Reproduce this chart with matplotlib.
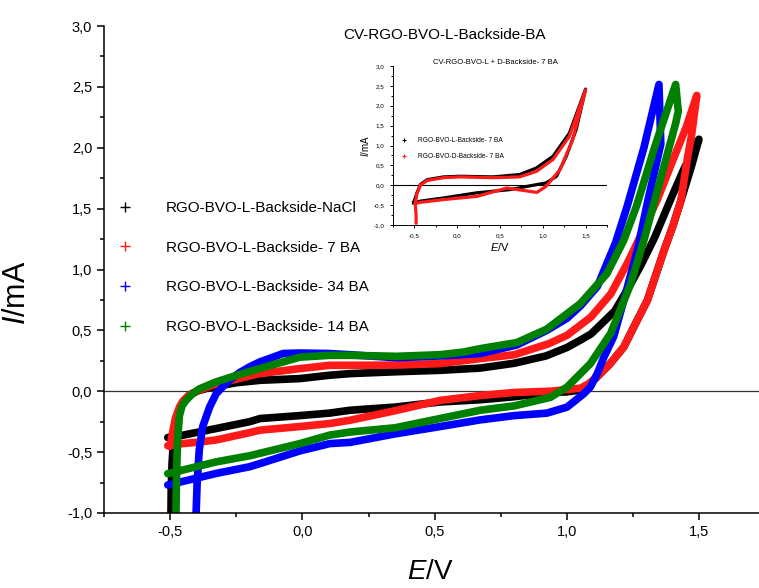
import numpy as np
import matplotlib
matplotlib.use("Agg")
from matplotlib import pyplot as plt
from matplotlib.lines import Line2D
from matplotlib.ticker import MultipleLocator, FuncFormatter

plt.rcParams['font.family'] = ['Liberation Sans', 'DejaVu Sans']
plt.rcParams['mathtext.fontset'] = 'custom'
plt.rcParams['mathtext.rm'] = 'Liberation Sans'
plt.rcParams['mathtext.it'] = 'Liberation Sans:italic'

# ---- main data (E in V, I in mA), one full cycle each ----
E_nacl = [-0.497, -0.496, -0.493, -0.488, -0.48, -0.465, -0.445, -0.427, -0.40, -0.36, -0.326, -0.25,
          -0.16, -0.01, 0.10, 0.18, 0.35, 0.52, 0.67, 0.80, 0.92, 1.00, 1.05, 1.09, 1.114, 1.18, 1.24,
          1.28, 1.33, 1.39, 1.44, 1.498,
          1.47, 1.43, 1.40, 1.366, 1.303, 1.25, 1.214, 1.16, 1.113, 1.08, 1.05, 1.0, 0.94, 0.80, 0.67,
          0.52, 0.35, 0.18, 0.10, -0.01, -0.16, -0.2, -0.326, -0.452, -0.509]
I_nacl = [-1.0, -0.8, -0.6, -0.42, -0.28, -0.15, -0.07, -0.03, 0.0, 0.025, 0.04, 0.07,
          0.09, 0.104, 0.131, 0.145, 0.16, 0.172, 0.19, 0.23, 0.29, 0.36, 0.42, 0.47, 0.52, 0.66, 0.88,
          1.04, 1.26, 1.57, 1.82, 2.07,
          1.85, 1.566, 1.36, 1.156, 0.746, 0.52, 0.363, 0.22, 0.117, 0.05, 0.01, -0.005, -0.01, -0.045, -0.07,
          -0.088, -0.13, -0.156, -0.18, -0.20, -0.224, -0.25, -0.306, -0.361, -0.38]

E_7ba = [-0.50, -0.49, -0.48, -0.465, -0.452, -0.427, -0.389, -0.326, -0.25, -0.162, -0.01, 0.103,
         0.18, 0.35, 0.52, 0.672, 0.80, 0.93, 1.0, 1.09, 1.165, 1.227, 1.256, 1.30, 1.34, 1.40, 1.45, 1.49,
         1.47, 1.455, 1.43, 1.40, 1.366, 1.303, 1.25, 1.214, 1.16, 1.113, 1.08, 1.05, 0.937, 0.80, 0.672,
         0.52, 0.35, 0.18, 0.103, -0.01, -0.162, -0.2, -0.326, -0.389, -0.452, -0.509]
I_7ba = [-0.45, -0.33, -0.22, -0.13, -0.08, -0.03, 0.01, 0.06, 0.10, 0.145, 0.186, 0.213,
         0.213, 0.215, 0.227, 0.268, 0.30, 0.39, 0.46, 0.61, 0.80, 1.05, 1.18, 1.38, 1.57, 1.90, 2.17, 2.43,
         2.1, 1.92, 1.566, 1.36, 1.156, 0.746, 0.52, 0.363, 0.22, 0.117, 0.06, 0.025, 0.0, -0.01, -0.035,
         -0.075, -0.16, -0.238, -0.265, -0.29, -0.32, -0.34, -0.40, -0.417, -0.43, -0.448]

E_34ba = [-0.402, -0.398, -0.39, -0.377, -0.351, -0.326, -0.30, -0.275, -0.24, -0.2, -0.162, -0.073,
          -0.01, 0.10, 0.18, 0.356, 0.52, 0.672, 0.81, 0.923, 1.0, 1.05, 1.114, 1.183, 1.227, 1.29, 1.347,
          1.354, 1.305, 1.265, 1.214, 1.176, 1.139, 1.114, 1.088, 1.063, 1.0, 0.923, 0.80, 0.672, 0.52,
          0.35, 0.18, 0.103, -0.01, -0.162, -0.2, -0.326, -0.509]
I_34ba = [-1.0, -0.75, -0.48, -0.29, -0.13, -0.02, 0.04, 0.09, 0.15, 0.2, 0.24, 0.31,
          0.314, 0.31, 0.30, 0.275, 0.29, 0.31, 0.38, 0.50, 0.60, 0.70, 0.86, 1.22, 1.52, 2.0, 2.52,
          2.03, 1.566, 1.156, 0.746, 0.45, 0.28, 0.145, 0.035, -0.02, -0.13, -0.18, -0.20, -0.235, -0.29,
          -0.35, -0.42, -0.43, -0.49, -0.595, -0.62, -0.675, -0.77]

E_14ba = [-0.478, -0.476, -0.472, -0.465, -0.455, -0.44, -0.415, -0.389, -0.326, -0.25, -0.162, -0.01,
          0.103, 0.18, 0.356, 0.52, 0.608, 0.672, 0.81, 0.923, 1.05, 1.15, 1.214, 1.262, 1.33, 1.41,
          1.42, 1.41, 1.32, 1.29, 1.24, 1.164, 1.088, 1.0, 0.937, 0.80, 0.672, 0.52, 0.35, 0.18, 0.103,
          -0.01, -0.162, -0.2, -0.326, -0.509]
I_14ba = [-1.0, -0.7, -0.4, -0.2, -0.12, -0.074, -0.02, 0.02, 0.077, 0.13, 0.186, 0.28,
          0.295, 0.295, 0.287, 0.30, 0.322, 0.35, 0.40, 0.51, 0.72, 0.965, 1.24, 1.52, 2.0, 2.52,
          2.3, 2.2, 1.48, 1.24, 0.88, 0.473, 0.227, 0.035, -0.05, -0.12, -0.156, -0.224, -0.30, -0.335, -0.36,
          -0.43, -0.51, -0.53, -0.58, -0.677]

labels = ["RGO-BVO-L-Backside-NaCl", "RGO-BVO-L-Backside- 7 BA",
          "RGO-BVO-L-Backside- 34 BA", "RGO-BVO-L-Backside- 14 BA"]
colors = ["black", "#ff1a1a", "blue", "green"]

# ---- inset data ----
E_L = [-0.508, -0.47, -0.43, -0.35, -0.16, 0.035, 0.42, 0.73, 0.926, 1.12, 1.31, 1.5,
       1.39, 1.275, 1.16, 1.04, 0.93, 0.616, 0.23, -0.16, -0.43, -0.51]
I_L = [-0.44, -0.19, 0.02, 0.14, 0.21, 0.226, 0.21, 0.27, 0.435, 0.73, 1.31, 2.42,
       1.40, 0.73, 0.226, 0.06, 0.017, -0.11, -0.19, -0.32, -0.40, -0.44]
E_D = [-0.48, -0.48, -0.485, -0.49, -0.47, -0.43, -0.35, -0.16, 0.035, 0.42, 0.73, 0.926, 1.12, 1.31, 1.5,
       1.35, 1.2, 1.04, 0.93, 0.58, 0.23, -0.16, -0.43, -0.49]
I_D = [-0.95, -0.78, -0.61, -0.46, -0.21, 0.0, 0.12, 0.19, 0.21, 0.19, 0.21, 0.35, 0.65, 1.23, 2.40,
       1.15, 0.39, -0.025, -0.18, -0.07, -0.28, -0.36, -0.43, -0.46]
inset_labels = ["RGO-BVO-L-Backside- 7 BA", "RGO-BVO-D-Backside- 7 BA"]
inset_colors = ["black", "#ff1a1a"]


def comma(v, pos):
    s = "%.1f" % v
    if s == "-0.0":
        s = "0.0"
    return s.replace(".", ",")


def style_axes(ax, fs, major_len, minor_len, lw):
    for sp in ("top", "right"):
        ax.spines[sp].set_visible(False)
    for sp in ("left", "bottom"):
        ax.spines[sp].set_linewidth(lw)
    ax.xaxis.set_major_locator(MultipleLocator(0.5))
    ax.xaxis.set_minor_locator(MultipleLocator(0.25))
    ax.yaxis.set_major_locator(MultipleLocator(0.5))
    ax.yaxis.set_minor_locator(MultipleLocator(0.25))
    ax.xaxis.set_major_formatter(FuncFormatter(comma))
    ax.yaxis.set_major_formatter(FuncFormatter(comma))
    ax.tick_params(which="major", direction="out", length=major_len, width=lw, labelsize=fs)
    ax.tick_params(which="minor", direction="out", length=minor_len, width=lw)
    ax.set_xlim(-0.75, 1.725)
    ax.set_ylim(-1.0, 3.0)


fig = plt.figure(figsize=(7.59, 5.88), dpi=100)
ax = fig.add_axes([104 / 759, 75 / 588, 655 / 759, 487 / 588])
style_axes(ax, 10.5, 5, 3, 1.1)
ax.axhline(0, color="#333333", lw=0.9, zorder=1)

series = [(E_nacl, I_nacl), (E_7ba, I_7ba), (E_34ba, I_34ba), (E_14ba, I_14ba)]
for (e, i), c in zip(series, colors):
    ax.plot(e, i, color=c, lw=5.5, solid_joinstyle="round", solid_capstyle="round", zorder=2)

handles = [Line2D([], [], ls="none", marker="+", color=c, markersize=7, markeredgewidth=1.0) for c in colors]
ax.legend(handles, labels, loc="upper left", bbox_to_anchor=(117 / 759, 1 - 201 / 588),
          bbox_transform=fig.transFigure, frameon=False, fontsize=11, handlelength=1.0,
          handletextpad=2.2, labelspacing=1.68, borderpad=0, borderaxespad=0)

ax.set_xlabel(r"$E$/V", fontsize=20)
ax.set_ylabel(r"$I$/mA", fontsize=22)
ax.xaxis.set_label_coords(0.498, -0.095)
ax.yaxis.set_label_coords(-0.11, 0.452)
fig.text(445 / 759, 1 - 35 / 588, "CV-RGO-BVO-L-Backside-BA", ha="center", va="center", fontsize=11)

# ---- inset ----
axi = fig.add_axes([393 / 759, 1 - 225 / 588, 214 / 759, 159 / 588])
style_axes(axi, 4.5, 2.5, 1.5, 0.7)
axi.set_xlim(-0.75, 1.75)
axi.axhline(0, color="black", lw=0.8, zorder=1)
for (e, i), c in zip([(E_L, I_L), (E_D, I_D)], inset_colors):
    axi.plot(e, i, color=c, lw=2.3, solid_joinstyle="round", zorder=2)
ih = [Line2D([], [], ls="none", marker="+", color=c, markersize=3.5, markeredgewidth=0.8) for c in inset_colors]
axi.legend(ih, inset_labels, loc="upper left", bbox_to_anchor=(401 / 759, 1 - 137 / 588),
           bbox_transform=fig.transFigure, frameon=False, fontsize=4.8, handlelength=1.0,
           handletextpad=1.6, labelspacing=1.4, borderpad=0, borderaxespad=0)
axi.set_xlabel(r"$E$/V", fontsize=8, labelpad=2)
axi.set_ylabel(r"$I$/mA", fontsize=7, labelpad=2)
axi.set_title("CV-RGO-BVO-L + D-Backside- 7 BA", fontsize=5.5, pad=-2, x=0.48)

fig.savefig("out.png", dpi=100)
